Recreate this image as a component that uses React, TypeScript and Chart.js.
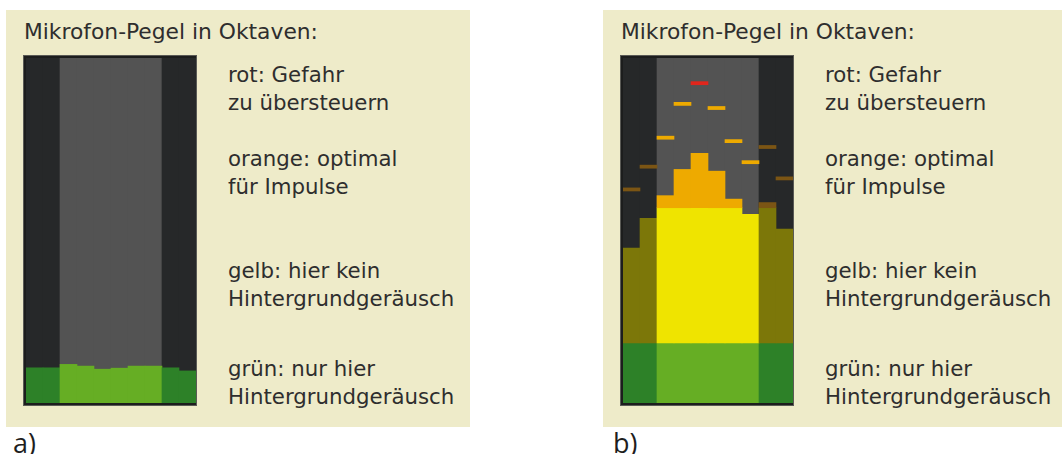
import React, { useEffect, useRef } from "react";
import { Chart, registerables } from "chart.js";

Chart.register(...registerables);

// Octave bands (columns of the level meter)
const OCTAVES = ["31 Hz", "63 Hz", "125 Hz", "250 Hz", "500 Hz", "1 kHz", "2 kHz", "4 kHz", "8 kHz", "16 kHz"];
// Bands inside the evaluated range (drawn brighter)
const IN_RANGE = [false, false, true, true, true, true, true, true, false, false];

// Panel a) – only background noise
const A_GREEN = [10.2, 10.2, 11.2, 10.7, 9.8, 10.1, 10.7, 10.7, 10.2, 9.3];

// Panel b) – impulse measurement
const B_GREEN = [17.4, 17.4, 17.4, 17.4, 17.4, 17.4, 17.4, 17.4, 17.4, 17.4];
const B_YELLOW = [44.9, 53.5, 56.6, 56.6, 56.6, 56.6, 56.6, 54.7, 56.6, 50.4];
const B_ORANGE: (number | null)[] = [null, null, 60.1, 67.7, 72.4, 67.2, 59.1, null, 58.1, null];
const B_PEAK = [61.9, 68.5, 76.9, 86.7, 92.7, 85.5, 75.9, 69.8, 74.2, 65.1];

const TITLE = "Mikrofon-Pegel in Oktaven:";
const LEGEND = [
  ["rot: Gefahr", "zu übersteuern"],
  ["orange: optimal", "für Impulse"],
  ["gelb: hier kein", "Hintergrundgeräusch"],
  ["grün: nur hier", "Hintergrundgeräusch"],
];
const RED_LEVEL = 90;

const COL = {
  bgIn: "#535353",
  bgOut: "#262829",
  greenIn: "#66ae24",
  greenOut: "#2d8128",
  yellowIn: "#efe400",
  yellowOut: "#7c7709",
  orangeIn: "#eeaa00",
  orangeOut: "#7b5514",
  red: "#e0261c",
};

type MeterProps = {
  green: number[];
  yellow?: number[];
  orange?: (number | null)[];
  peaks?: number[];
};

function Meter({ green, yellow, orange, peaks }: MeterProps) {
  const ref = useRef<HTMLCanvasElement>(null);
  useEffect(() => {
    const pick = (a: string, b: string) => IN_RANGE.map((x) => (x ? a : b));
    const datasets: any[] = [
      { data: OCTAVES.map(() => [0, 100]), backgroundColor: pick(COL.bgIn, COL.bgOut) },
      { data: green.map((g) => [0, g]), backgroundColor: pick(COL.greenIn, COL.greenOut) },
    ];
    if (yellow) {
      datasets.push({
        data: yellow.map((y, i) => [green[i], y]),
        backgroundColor: pick(COL.yellowIn, COL.yellowOut),
      });
    }
    if (orange && yellow) {
      datasets.push({
        data: orange.map((o, i) => (o == null ? null : [yellow[i], o])),
        backgroundColor: pick(COL.orangeIn, COL.orangeOut),
      });
    }
    if (peaks) {
      datasets.push({
        data: peaks.map((p) => [p - 0.45, p + 0.45]),
        backgroundColor: peaks.map((p, i) =>
          p > RED_LEVEL ? COL.red : IN_RANGE[i] ? COL.orangeIn : COL.orangeOut
        ),
      });
    }
    const n = datasets.length;
    datasets.forEach((d, i) => {
      d.order = n - i; // later datasets drawn on top
      d.grouped = false;
      d.barPercentage = 1;
      d.categoryPercentage = 1;
      d.borderWidth = 0;
      d.borderSkipped = false;
    });
    const chart = new Chart(ref.current!, {
      type: "bar",
      data: { labels: OCTAVES, datasets },
      options: {
        animation: false,
        responsive: false,
        maintainAspectRatio: false,
        events: [],
        layout: { padding: 0 },
        plugins: { legend: { display: false }, tooltip: { enabled: false } },
        scales: {
          x: { display: false, grid: { display: false } },
          y: { display: false, min: 0, max: 100, grid: { display: false } },
        },
      },
    });
    return () => chart.destroy();
  }, []);
  return (
    <canvas
      ref={ref}
      width={170}
      height={345}
      style={{ display: "block", width: 170, height: 345 }}
    />
  );
}

const textStyle: React.CSSProperties = {
  position: "absolute",
  fontFamily: "'DejaVu Sans', Verdana, sans-serif",
  fontSize: "21.3px",
  lineHeight: "28px",
  color: "#2e2e2e",
  whiteSpace: "nowrap",
};

const LEGEND_TOPS = [60.6, 144.6, 256.6, 354.6];

function Panel({ left, width, meter }: { left: number; width: number; meter: React.ReactNode }) {
  return (
    <div
      style={{
        position: "absolute",
        left,
        top: 10,
        width,
        height: 417,
        background: "#eeebc9",
      }}
    >
      <div style={{ ...textStyle, fontSize: "21.8px", left: 18, top: 8.4 }}>{TITLE}</div>
      <div
        style={{
          position: "absolute",
          left: 17,
          top: 45,
          width: 172,
          height: 349,
          background: "#1c1d1d",
          border: "1px solid #5a5a55",
          boxSizing: "content-box",
          padding: 0,
        }}
      >
        <div style={{ position: "absolute", left: 1.5, top: 1.5 }}>{meter}</div>
      </div>
      {LEGEND.map((l, i) => (
        <div key={i} style={{ ...textStyle, left: 222, top: LEGEND_TOPS[i] - 10 }}>
          {l[0]}
          <br />
          {l[1]}
        </div>
      ))}
    </div>
  );
}

const labelStyle: React.CSSProperties = {
  position: "absolute",
  top: 427.5,
  fontFamily: "'Open Sans', sans-serif",
  fontSize: "27px",
  lineHeight: "30px",
  color: "#1e1e1e",
  whiteSpace: "nowrap",
};

export default function App() {
  return (
    <div
      style={{
        position: "absolute",
        left: 0,
        top: 0,
        width: 1062,
        height: 454,
        background: "#ffffff",
        overflow: "hidden",
      }}
    >
      <Panel left={6} width={464} meter={<Meter green={A_GREEN} />} />
      <Panel
        left={603}
        width={459}
        meter={<Meter green={B_GREEN} yellow={B_YELLOW} orange={B_ORANGE} peaks={B_PEAK} />}
      />
      <div style={{ ...labelStyle, left: 13 }}>a)</div>
      <div style={{ ...labelStyle, left: 613 }}>b)</div>
    </div>
  );
}
